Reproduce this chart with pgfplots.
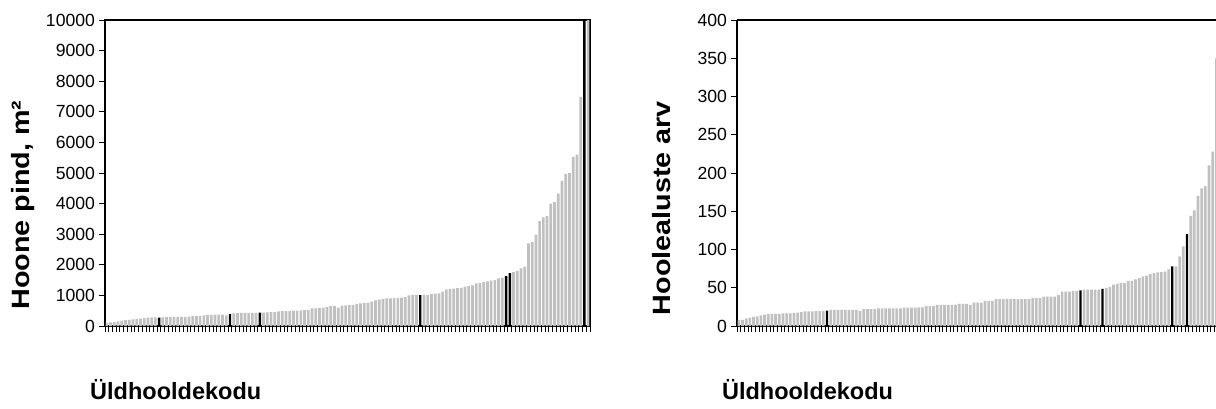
\documentclass[border=0pt]{standalone}
\usepackage{graphicx}
\usepackage{fontspec}
\setmainfont{Liberation Sans}
\usepackage{pgfplots}
\pgfplotsset{compat=1.18}
\usepackage{pgfplotstable}

\definecolor{barsilver}{RGB}{192,192,192}

% Hoone pind (m2), sorted; black bars kept apart
\pgfplotstableread{
i v
0 100
1 115
2 130
3 150
4 175
5 190
6 200
7 215
8 230
9 245
10 260
11 270
12 280
13 285
15 285
16 290
17 295
18 295
19 295
20 300
21 300
22 310
23 320
24 325
25 330
26 350
27 360
28 365
29 370
30 370
31 370
32 350
34 410
35 420
36 425
37 425
38 430
39 430
40 430
42 440
43 445
44 450
45 455
46 480
47 490
48 490
49 495
50 500
51 505
52 510
53 515
54 520
55 580
56 580
57 585
58 590
59 620
60 650
61 660
62 600
63 670
64 675
65 680
66 690
67 720
68 740
69 745
70 760
71 800
72 840
73 860
74 880
75 900
76 905
77 910
78 920
79 930
80 940
81 1000
82 1010
83 1010
85 1015
86 1020
87 1040
88 1060
89 1070
90 1120
91 1200
92 1210
93 1220
94 1240
95 1250
96 1290
97 1300
98 1330
99 1390
100 1400
101 1440
102 1460
103 1480
104 1500
105 1560
106 1570
109 1760
110 1800
111 1880
112 1940
113 2700
114 2750
115 2990
116 3430
117 3550
118 3590
119 4000
120 4050
121 4330
122 4740
123 4970
124 5000
125 5530
126 5600
127 7490
129 10400
}\pindgray

\pgfplotstableread{
i v
14 270
33 390
41 435
84 1010
107 1630
108 1730
128 10600
}\pindblack

% Hoolealuste arv
\pgfplotstableread{
i v
0 7.8
1 8
2 10
3 11
4 12
5 12.5
6 14
7 15
8 15.5
9 16
10 16
11 16
12 16.5
13 16.5
14 16.5
15 17
16 17.4
17 18
18 19
19 19
20 19
21 19.5
22 19.5
23 19.5
25 21
26 21
27 21
28 21
29 21
30 21
31 21
32 21
33 19.6
34 22
35 22
36 22
37 22
38 23
39 23
40 23
41 23
42 23
43 23
44 23
45 24
46 24
47 24
48 24
49 24.5
50 24.5
51 26
52 26
53 26
54 27.5
55 27.5
56 27.5
57 27.5
58 27.5
59 27.5
60 29
61 29
62 29
63 27.5
64 30.5
65 30.5
66 30.5
67 32.7
68 32.7
69 32.7
70 35
71 35
72 35
73 35
74 35
75 35
76 35
77 35
78 35
79 35
80 36.6
81 36.6
82 36.6
83 38.3
84 38.3
85 38.3
86 38.3
87 40.5
88 45
89 45
90 45
91 46
92 46
94 47.5
95 47.5
96 47.5
97 47.5
98 47.5
100 50
101 51
102 54
103 55
104 56
105 56
106 59
107 59
108 61
109 63
110 65
111 66
112 68
113 69
114 70
115 70.5
116 71
117 74
119 78
120 91
121 104
123 144
124 151
125 170
126 180
127 183
128 210
129 228
130 350
}\arvgray

\pgfplotstableread{
i v
24 20
93 46.5
99 48.4
118 78
122 120
}\arvblack

\pgfplotsset{
  kodud/.style={
    scale only axis,
    height=153pt,
    ymin=0,
    xmin=-0.5,
    ybar, bar shift=0pt,
    xtick pos=bottom, ytick pos=left,
    tick align=outside,
    major tick length=3pt,
    xticklabels={},
    scaled y ticks=false,
    tick style={black, line width=0.5pt},
    axis line style={black, line width=0.6pt},
    /pgf/number format/assume math mode=true,
    /pgf/number format/1000 sep={},
    ticklabel style={font=\fontsize{8.8}{10}\selectfont},
    yticklabel style={xshift=1.5pt},
    every axis y label/.style={at={(axis description cs:-0.168,0.395)}, rotate=90, anchor=center,
      font=\fontsize{12.5}{14}\selectfont\bfseries},
    every axis x label/.style={at={(axis description cs:-0.045,-0.24)}, anchor=base west,
      font=\fontsize{11.75}{14}\selectfont\bfseries},
  },
}

\begin{document}
\begin{tikzpicture}
\useasboundingbox (0,0) rectangle (608pt,204pt);

\begin{axis}[
    kodud,
    at={(52.5pt,41pt)}, anchor=south west,
    width=242.5pt,
    xmax=129.5,
    ymax=10000,
    ytick={0,1000,...,10000},
    xtick={-0.5,0.5,...,129.5},
    ylabel={\scalebox{1.15}[1]{Hoone pind, m²}},
    xlabel={Üldhooldekodu},
]
\addplot[fill=barsilver, draw=none, bar width=0.73] table[x=i, y=v] {\pindgray};
\addplot[fill=black, draw=none, bar width=0.65] table[x=i, y=v] {\pindblack};
\end{axis}

\begin{axis}[
    kodud,
    at={(368.5pt,41pt)}, anchor=south west,
    width=239.5pt,
    xmax=129.9,
    ymax=400,
    ytick={0,50,...,400},
    xtick={-0.5,0.5,...,129.5},
    axis x line*=box, axis y line*=left,
    every axis y label/.style={at={(axis description cs:-0.158,0.385)}, rotate=90, anchor=center,
      font=\fontsize{12.5}{14}\selectfont\bfseries},
    every axis x label/.style={at={(axis description cs:-0.046,-0.24)}, anchor=base west,
      font=\fontsize{11.75}{14}\selectfont\bfseries},
    ylabel={\scalebox{1.15}[1]{Hoolealuste arv}},
    xlabel={Üldhooldekodu},
]
\addplot[fill=barsilver, draw=none, bar width=0.73] table[x=i, y=v] {\arvgray};
\addplot[fill=black, draw=none, bar width=0.65] table[x=i, y=v] {\arvblack};
\end{axis}
\end{tikzpicture}
\end{document}
